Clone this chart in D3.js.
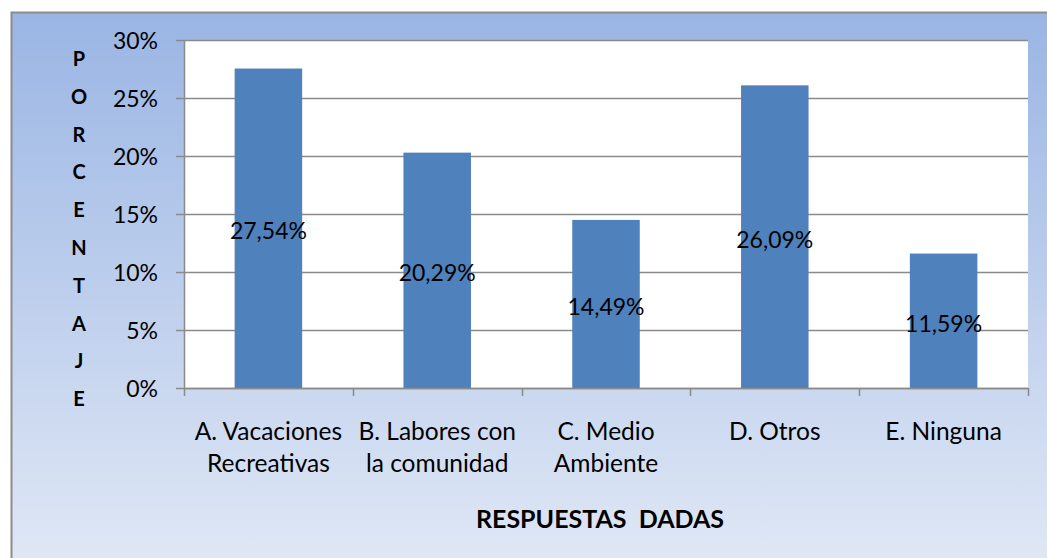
<!DOCTYPE html>
<html>
<head>
<meta charset="utf-8">
<script src="https://cdn.jsdelivr.net/npm/d3@7"></script>
<style>
  html, body { margin: 0; padding: 0; background: #fff; }
  svg { display: block; font-family: Lato, "Open Sans", sans-serif; }
  text { white-space: pre; }
</style>
</head>
<body>
<div class="app"></div>
<script>
const categories = [
  ['A. Vacaciones', 'Recreativas'],
  ['B. Labores con', 'la comunidad'],
  ['C. Medio', 'Ambiente'],
  ['D. Otros'],
  ['E. Ninguna']
]
const values = [27.54, 20.29, 14.49, 26.09, 11.59]
const valueLabels = ['27,54%', '20,29%', '14,49%', '26,09%', '11,59%']
const yTicks = [0, 5, 10, 15, 20, 25, 30]
const yTitle = ['P', 'O', 'R', 'C', 'E', 'N', 'T', 'A', 'J', 'E']
const xTitle = 'RESPUESTAS  DADAS'

const W = 1047, H = 558
const plot = { left: 184, right: 1028, top: 40, bottom: 388 }

const svg = d3.select('.app').append('svg').attr('width', W).attr('height', H)

const grad = svg.append('defs').append('linearGradient')
  .attr('id', 'bg').attr('x1', 0).attr('y1', 0).attr('x2', 0).attr('y2', 1)
grad.append('stop').attr('offset', '0%').attr('stop-color', '#9ab5e4')
grad.append('stop').attr('offset', '100%').attr('stop-color', '#e3eaf6')

svg.append('rect')
  .attr('x', 11.5).attr('y', 12.5).attr('width', W + 20).attr('height', H + 20)
  .attr('fill', 'url(#bg)').attr('stroke', '#8c8c8c').attr('stroke-width', 2)

svg.append('rect')
  .attr('x', plot.left).attr('y', plot.top)
  .attr('width', plot.right - plot.left).attr('height', plot.bottom - plot.top)
  .attr('fill', '#fff')

const x = d3.scaleBand()
  .domain(d3.range(values.length))
  .range([plot.left, plot.right])
  .paddingInner(0.6).paddingOuter(0.3)

const xCat = d3.scaleBand()
  .domain(d3.range(values.length))
  .range([plot.left, plot.right])

const y = d3.scaleLinear().domain([0, 30]).range([plot.bottom, plot.top])

// gridlines
svg.append('g').selectAll('line').data(yTicks).enter().append('line')
  .attr('x1', plot.left - 8).attr('x2', plot.right)
  .attr('y1', d => Math.round(y(d)) + 0.5).attr('y2', d => Math.round(y(d)) + 0.5)
  .attr('stroke', '#8a8a8a').attr('stroke-width', 1.5)

// bars
svg.append('g').selectAll('rect').data(values).enter().append('rect')
  .attr('x', (d, i) => x(i)).attr('width', x.bandwidth())
  .attr('y', d => y(d)).attr('height', d => plot.bottom - y(d))
  .attr('fill', '#4f81bd')

// x axis line & ticks
svg.append('line')
  .attr('x1', plot.left).attr('x2', plot.right)
  .attr('y1', plot.bottom + 0.5).attr('y2', plot.bottom + 0.5)
  .attr('stroke', '#8a8a8a').attr('stroke-width', 1.5)
const bounds = d3.range(values.length).map(i => xCat(i)).concat([plot.right])
svg.append('g').selectAll('line').data(bounds).enter().append('line')
  .attr('x1', d => Math.round(d) + 0.5).attr('x2', d => Math.round(d) + 0.5)
  .attr('y1', plot.bottom).attr('y2', plot.bottom + 8)
  .attr('stroke', '#8a8a8a').attr('stroke-width', 1.5)

// y axis line
svg.append('line')
  .attr('x1', plot.left + 0.5).attr('x2', plot.left + 0.5)
  .attr('y1', plot.top).attr('y2', plot.bottom)
  .attr('stroke', '#8a8a8a').attr('stroke-width', 1.5)

// y tick labels
svg.append('g').selectAll('text').data(yTicks).enter().append('text')
  .attr('x', 158).attr('y', d => y(d))
  .attr('text-anchor', 'end').attr('dominant-baseline', 'central')
  .attr('font-size', 23).attr('fill', '#000')
  .text(d => d + '%')

// value labels
svg.append('g').selectAll('text').data(values).enter().append('text')
  .attr('x', (d, i) => x(i) + x.bandwidth() / 2).attr('y', d => y(d / 2) + 2)
  .attr('text-anchor', 'middle').attr('dominant-baseline', 'central')
  .attr('font-size', 23).attr('fill', '#000')
  .text((d, i) => valueLabels[i])

// category labels
const cat = svg.append('g').selectAll('text').data(categories).enter().append('text')
  .attr('text-anchor', 'middle').attr('font-size', 24.5).attr('fill', '#000')
cat.selectAll('tspan').data((d, i) => d.map(t => ({ t, i }))).enter().append('tspan')
  .attr('x', d => xCat(d.i) + xCat.bandwidth() / 2)
  .attr('y', (d, j) => 440 + j * 32)
  .text(d => d.t)

// axis titles
svg.append('text')
  .attr('x', 600).attr('y', 518)
  .attr('text-anchor', 'middle').attr('dominant-baseline', 'central')
  .attr('font-size', 25).attr('font-weight', 'bold').attr('fill', '#000')
  .text(xTitle)

svg.append('g').selectAll('text').data(yTitle).enter().append('text')
  .attr('x', 79).attr('y', (d, i) => 58 + i * 37.8)
  .attr('text-anchor', 'middle').attr('dominant-baseline', 'central')
  .attr('font-size', 20).attr('font-weight', 'bold').attr('fill', '#000')
  .text(d => d)
</script>
</body>
</html>
